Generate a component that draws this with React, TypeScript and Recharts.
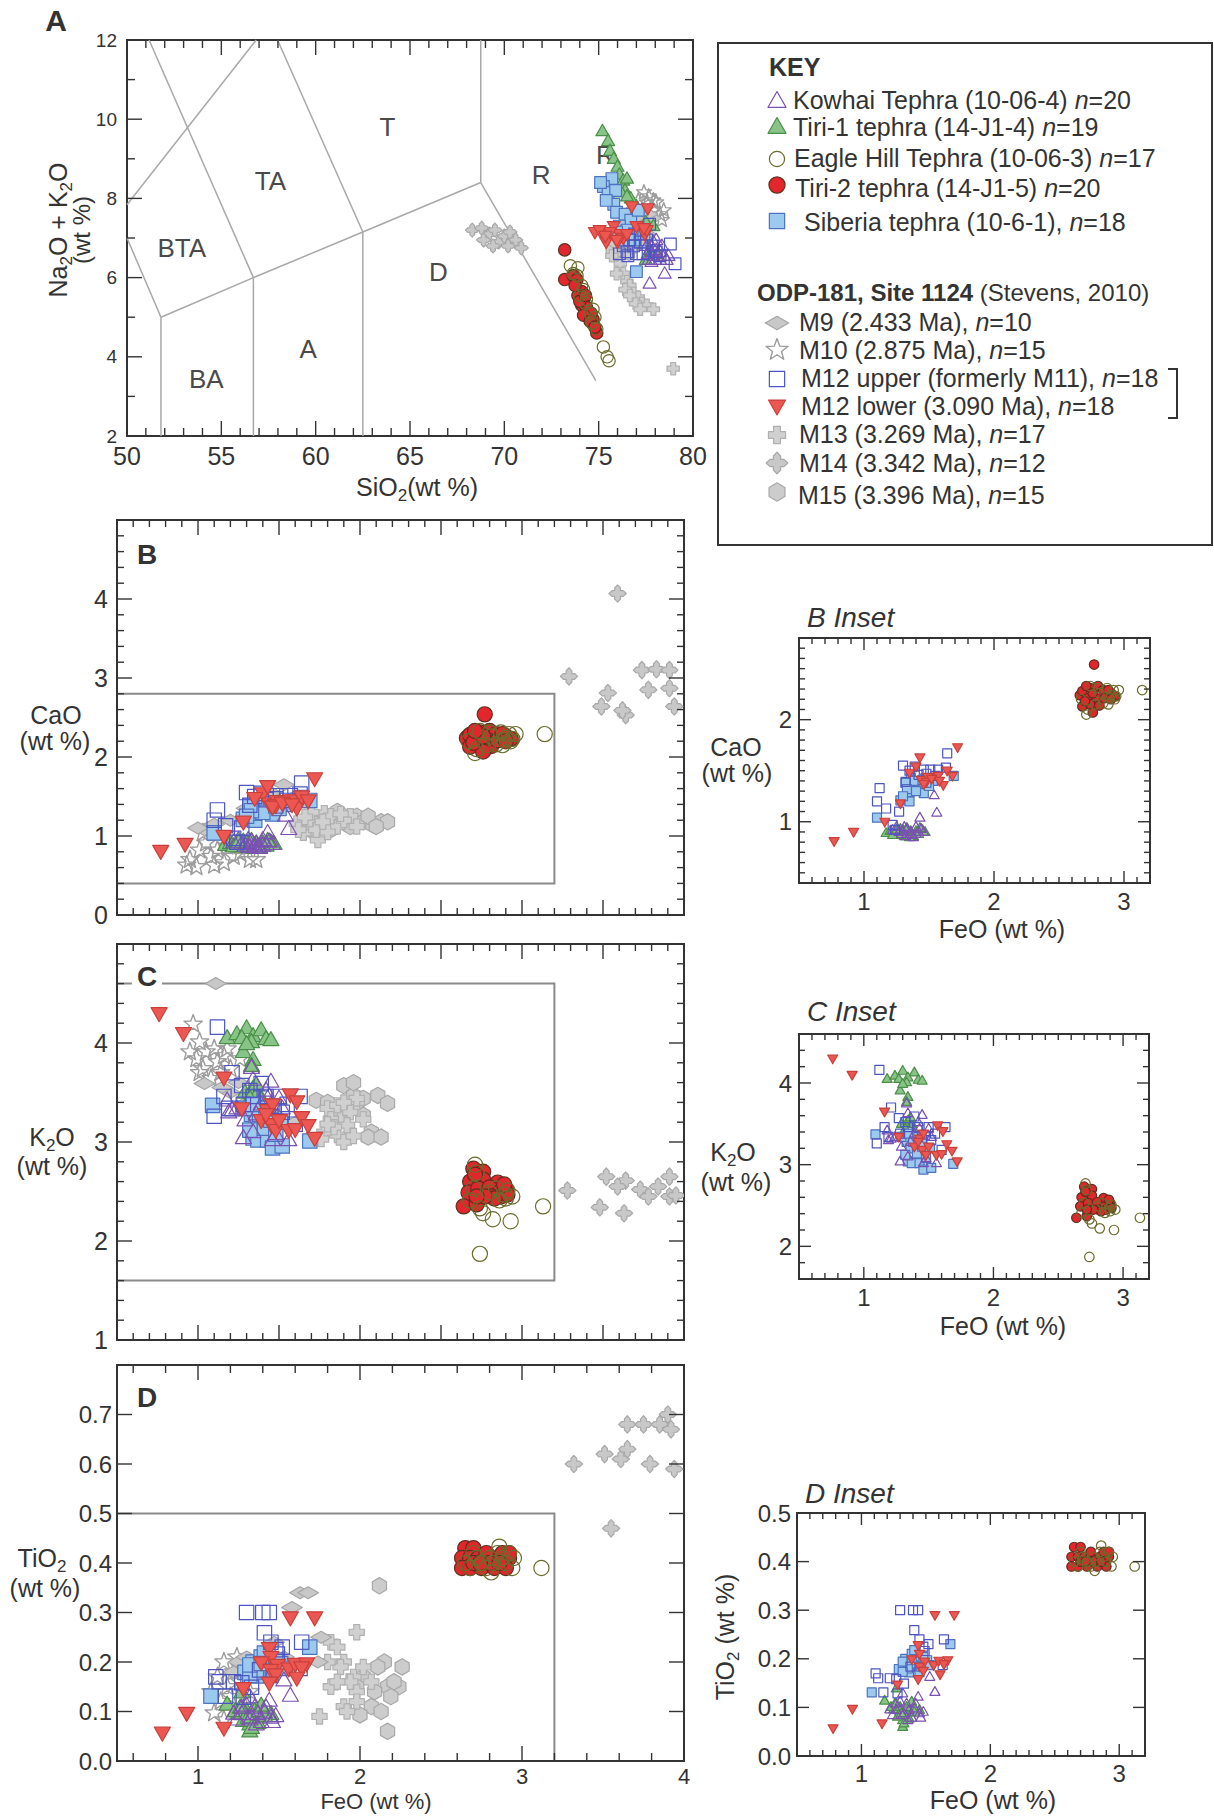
import React from 'react';
import { ScatterChart, Scatter, XAxis, YAxis, ReferenceArea, ReferenceLine } from 'recharts';

type P = [number, number];

const FONT = '"Liberation Sans", Arial, Helvetica, sans-serif';
const INK = '#333';

// ---------- A: Na2O + K2O vs SiO2 ----------
const kowhaiTAS: P[] = [[78.5, 6.1], [77.7, 5.85], [77.9, 6.55], [78.25, 6.45], [78.45, 6.55], [78.05, 6.7], [77.8, 6.8], [77.6, 6.6], [78.15, 6.55], [78.0, 6.45], [78.6, 6.45], [78.25, 6.65], [77.9, 6.9], [77.55, 6.8], [77.8, 6.4], [78.35, 6.8], [78.05, 6.95], [77.65, 6.45], [78.7, 6.55], [77.8, 6.65]];
const tiri1TAS: P[] = [[75.2, 9.7], [75.5, 9.45], [75.6, 9.2], [75.8, 9.0], [76.0, 8.8], [76.1, 8.6], [76.3, 8.45], [76.5, 8.5], [76.4, 8.2], [76.2, 8.15], [76.7, 8.0], [77.0, 7.8], [77.5, 7.4], [77.9, 7.3], [77.7, 6.7], [78.1, 6.6], [77.8, 6.55], [77.5, 6.45], [76.5, 8.05]];
const eagleTAS: P[] = [[73.5, 6.3], [73.9, 6.25], [73.85, 6.05], [74.2, 5.7], [74.3, 5.35], [74.7, 5.2], [74.8, 5.0], [74.65, 4.85], [75.25, 4.25], [75.45, 4.0], [75.55, 3.9], [74.35, 5.45], [74.0, 5.55], [74.55, 5.1], [74.9, 4.7], [74.1, 5.8], [73.65, 6.1]];
const tiri2TAS: P[] = [[73.2, 6.7], [73.2, 5.95], [73.65, 6.05], [74.1, 5.65], [74.2, 5.45], [74.1, 5.3], [74.3, 5.1], [74.45, 5.0], [74.7, 4.95], [74.9, 4.6], [73.9, 5.55], [74.35, 5.25], [74.6, 5.1], [73.85, 5.95], [74.2, 5.05], [74.0, 5.4], [74.55, 4.9], [74.3, 5.55], [73.75, 5.8], [74.8, 4.75]];
const siberiaTAS: P[] = [[75.7, 8.5], [75.25, 8.3], [75.5, 8.15], [75.9, 8.2], [75.8, 7.85], [75.95, 7.65], [76.4, 7.6], [76.7, 7.45], [77.1, 7.7], [75.4, 7.95], [76.1, 7.3], [76.5, 7.2], [76.9, 6.95], [77.0, 6.15], [76.3, 6.95], [75.95, 7.15], [77.4, 7.1], [75.1, 8.4]];
const m9TAS: P[] = [[76.9, 7.2], [77.3, 7.4], [77.6, 7.1], [76.6, 7.0], [77.9, 7.5], [77.2, 6.9], [76.4, 7.3], [77.7, 7.6], [77.0, 7.5], [76.2, 7.1]];
const m10TAS: P[] = [[77.4, 8.15], [77.9, 7.7], [78.25, 7.6], [77.55, 7.9], [77.1, 7.95], [78.05, 7.9], [77.7, 7.55], [78.35, 7.45], [77.3, 7.7], [76.85, 7.7], [77.9, 7.95], [78.45, 7.7], [77.45, 7.45], [77.0, 7.55], [77.65, 8.05]];
const m12uTAS: P[] = [[78.8, 6.85], [79.05, 6.35], [76.1, 6.6], [76.5, 6.65], [76.85, 6.8], [77.2, 6.9], [77.55, 6.95], [77.9, 6.8], [76.65, 6.95], [77.0, 6.6], [76.3, 6.8], [77.35, 6.6], [78.25, 6.55], [77.7, 7.35], [76.9, 7.1], [76.55, 6.55], [78.05, 6.65], [77.2, 7.1]];
const m12lTAS: P[] = [[76.75, 7.8], [77.6, 7.75], [74.8, 7.15], [75.15, 7.15], [75.4, 6.9], [75.8, 7.3], [76.1, 7.1], [75.6, 7.15], [76.3, 7.0], [76.0, 6.9], [77.45, 7.1], [77.55, 7.2], [75.05, 7.2], [76.5, 7.1], [77.0, 7.3], [77.4, 7.25], [75.35, 7.05], [75.95, 6.95]];
const m13TAS: P[] = [[75.95, 6.6], [76.15, 6.35], [76.3, 6.1], [76.5, 5.9], [76.65, 5.8], [76.85, 5.6], [77.1, 5.5], [77.3, 5.35], [77.55, 5.3], [77.9, 5.2], [76.95, 5.35], [76.4, 5.7], [75.7, 6.55], [77.2, 5.2], [75.95, 6.1], [76.65, 5.55], [78.95, 3.7]];
const m14TAS: P[] = [[68.3, 7.2], [68.8, 7.25], [69.2, 7.1], [69.5, 7.2], [69.7, 6.9], [70.0, 7.05], [70.3, 7.15], [70.6, 6.95], [70.9, 6.75], [69.4, 6.8], [70.2, 6.8], [68.9, 6.95]];
const m15TAS: P[] = [[75.8, 6.8], [76.1, 6.9], [76.4, 6.7], [76.0, 6.6], [76.7, 6.9], [75.9, 7.0], [76.3, 6.85], [76.6, 6.6], [76.2, 6.75], [75.7, 6.7], [76.5, 7.0], [76.8, 6.75], [76.05, 6.75], [76.35, 6.95], [75.85, 6.9]];

// TAS field boundaries and field names
const tasLines: P[][] = [
  [[50, 7.84], [56.85, 12]],
  [[51.17, 12], [56.7, 6.0]],
  [[50, 7.0], [51.8, 5.0]],
  [[51.8, 5.0], [56.7, 6.0], [62.5, 7.15], [68.75, 8.4]],
  [[57.98, 12], [62.5, 7.15]],
  [[51.8, 5.0], [51.8, 2]],
  [[56.7, 6.0], [56.7, 2]],
  [[62.5, 7.15], [62.5, 2]],
  [[68.75, 8.4], [68.75, 12]],
  [[68.75, 8.4], [74.85, 3.4]],
];
const tasFieldNames = ['BTA', 'TA', 'T', 'R', 'R', 'D', 'A', 'BA'];
const tasFieldPos: P[] = [[52.9, 6.75], [57.6, 8.45], [63.8, 9.8], [71.95, 8.6], [75.35, 9.1], [66.5, 6.15], [59.6, 4.2], [54.2, 3.45]];

// ---------- B: CaO vs FeO ----------
const kowhaiCaO: P[] = [[1.22, 0.92], [1.30, 0.91], [1.35, 0.88], [1.40, 0.88], [1.44, 0.93], [1.43, 1.04], [1.54, 1.26], [1.56, 1.09], [1.32, 0.86], [1.38, 0.85], [1.27, 0.90], [1.33, 0.93], [1.36, 0.90], [1.42, 0.90], [1.29, 0.88], [1.25, 0.95], [1.40, 0.95], [1.31, 0.95], [1.37, 0.87], [1.46, 0.90]];
const tiri1CaO: P[] = [[1.17, 0.89], [1.24, 0.90], [1.30, 0.92], [1.34, 0.88], [1.40, 0.91], [1.45, 0.92], [1.31, 0.86], [1.20, 0.91], [1.27, 0.87], [1.36, 0.91], [1.42, 0.88], [1.33, 0.94], [1.28, 0.93], [1.38, 0.86], [1.22, 0.87], [1.47, 0.90], [1.35, 0.85], [1.25, 0.92], [1.43, 0.94]];
const eagleCaO: P[] = [[3.14, 2.29], [2.71, 2.05], [2.92, 2.29], [2.94, 2.23], [2.96, 2.29], [2.89, 2.21], [2.74, 2.33], [2.81, 2.26], [2.87, 2.31], [2.67, 2.20], [2.78, 2.15], [2.84, 2.16], [2.90, 2.24], [2.72, 2.10], [2.80, 2.31], [2.93, 2.20], [2.88, 2.15]];
const tiri2CaO: P[] = [[2.77, 2.54], [2.66, 2.24], [2.68, 2.28], [2.74, 2.31], [2.80, 2.33], [2.84, 2.29], [2.90, 2.26], [2.93, 2.23], [2.72, 2.21], [2.79, 2.21], [2.68, 2.13], [2.74, 2.15], [2.81, 2.14], [2.76, 2.07], [2.85, 2.21], [2.70, 2.18], [2.88, 2.29], [2.76, 2.26], [2.90, 2.20], [2.71, 2.33]];
const siberiaCaO: P[] = [[1.10, 1.04], [1.28, 1.21], [1.35, 1.20], [1.35, 1.29], [1.39, 1.35], [1.42, 1.32], [1.46, 1.28], [1.36, 1.43], [1.39, 1.40], [1.53, 1.40], [1.69, 1.45], [1.32, 1.38], [1.45, 1.41], [1.50, 1.35], [1.40, 1.30], [1.33, 1.32], [1.48, 1.38], [1.30, 1.25]];
const m9CaO: P[] = [[1.04, 1.08], [1.53, 1.65], [1.00, 1.10], [1.10, 1.15], [1.20, 1.20], [1.35, 1.30], [1.45, 1.55], [1.50, 1.45], [1.60, 1.50], [1.30, 1.35]];
const m10CaO: P[] = [[0.95, 0.70], [1.01, 0.82], [1.08, 0.74], [1.16, 0.66], [1.22, 0.74], [1.32, 0.70], [1.05, 0.91], [0.99, 0.61], [1.12, 0.82], [1.26, 0.78], [1.36, 0.70], [1.03, 1.04], [1.18, 0.87], [1.10, 0.63], [0.93, 0.63]];
const m12uCaO: P[] = [[1.12, 1.33], [1.10, 1.20], [1.17, 1.13], [1.27, 1.10], [1.30, 1.55], [1.32, 1.39], [1.39, 1.54], [1.46, 1.51], [1.51, 1.51], [1.57, 1.51], [1.63, 1.53], [1.64, 1.67], [1.22, 0.97], [1.24, 0.92], [1.42, 1.46], [1.55, 1.45], [1.35, 1.50], [1.48, 1.47]];
const m12lCaO: P[] = [[0.77, 0.81], [0.92, 0.90], [1.16, 1.00], [1.28, 1.18], [1.40, 1.54], [1.43, 1.63], [1.44, 1.41], [1.49, 1.44], [1.48, 1.39], [1.57, 1.45], [1.61, 1.36], [1.64, 1.50], [1.68, 1.45], [1.72, 1.73], [1.46, 1.37], [1.52, 1.42], [1.35, 1.48], [1.58, 1.40]];
const m13CaO: P[] = [[1.61, 1.16], [1.74, 0.95], [1.69, 1.21], [1.78, 1.29], [1.86, 1.12], [1.65, 1.04], [1.82, 1.25], [1.94, 1.25], [1.98, 1.12], [1.73, 1.08], [1.70, 1.30], [1.90, 1.20], [1.80, 1.05], [1.62, 1.08], [1.77, 1.18], [1.88, 1.28], [1.66, 1.24]];
const m14CaO: P[] = [[3.29, 3.02], [3.59, 4.07], [3.53, 2.81], [3.49, 2.64], [3.64, 2.53], [3.74, 3.10], [3.83, 3.11], [3.91, 3.10], [3.78, 2.85], [3.91, 2.87], [3.94, 2.64], [3.62, 2.59]];
const m15CaO: P[] = [[1.74, 1.10], [1.82, 1.08], [1.91, 1.16], [1.98, 1.25], [2.02, 1.18], [2.08, 1.14], [2.13, 1.18], [2.17, 1.18], [1.78, 1.18], [1.86, 1.31], [1.94, 1.12], [1.69, 1.08], [1.90, 1.25], [2.05, 1.25], [2.10, 1.12]];

// ---------- C: K2O vs FeO ----------
const kowhaiK2O: P[] = [[1.21, 3.32], [1.18, 3.42], [1.33, 3.75], [1.34, 3.63], [1.45, 3.61], [1.43, 3.44], [1.28, 3.04], [1.34, 3.10], [1.46, 3.02], [1.56, 3.02], [1.52, 3.34], [1.24, 3.34], [1.39, 3.38], [1.29, 3.22], [1.42, 3.52], [1.48, 3.08], [1.19, 3.30], [1.36, 3.28], [1.45, 3.38], [1.50, 3.44]];
const tiri1K2O: P[] = [[1.18, 4.05], [1.24, 4.09], [1.30, 4.15], [1.34, 4.07], [1.39, 4.13], [1.42, 4.04], [1.28, 3.91], [1.33, 4.01], [1.34, 3.83], [1.33, 3.77], [1.29, 3.50], [1.34, 3.54], [1.37, 3.50], [1.27, 4.05], [1.45, 4.03], [1.30, 3.99], [1.36, 3.58], [1.39, 3.42], [1.32, 3.44]];
const eagleK2O: P[] = [[2.71, 2.77], [2.76, 2.28], [2.82, 2.22], [2.93, 2.20], [2.74, 1.87], [3.13, 2.35], [2.89, 2.47], [2.94, 2.45], [2.91, 2.51], [2.70, 2.53], [2.84, 2.53], [2.72, 2.69], [2.86, 2.41], [2.80, 2.49], [2.68, 2.41], [2.74, 2.33], [2.90, 2.43]];
const tiri2K2O: P[] = [[2.70, 2.73], [2.76, 2.70], [2.68, 2.60], [2.76, 2.62], [2.85, 2.59], [2.67, 2.49], [2.73, 2.53], [2.80, 2.54], [2.86, 2.49], [2.90, 2.53], [2.64, 2.35], [2.72, 2.37], [2.81, 2.45], [2.87, 2.45], [2.91, 2.47], [2.71, 2.67], [2.83, 2.43], [2.77, 2.45], [2.72, 2.45], [2.89, 2.57]];
const siberiaK2O: P[] = [[1.09, 3.37], [1.33, 3.28], [1.36, 3.20], [1.34, 3.04], [1.37, 3.02], [1.43, 3.02], [1.46, 2.94], [1.52, 2.96], [1.69, 3.01], [1.29, 3.34], [1.41, 3.14], [1.48, 3.08], [1.45, 3.22], [1.32, 3.12], [1.38, 3.28], [1.51, 3.20], [1.42, 3.34], [1.34, 3.38]];
const m9K2O: P[] = [[1.11, 4.60], [1.04, 3.59], [1.20, 3.50], [1.30, 3.40], [1.45, 3.30], [1.50, 3.25], [1.15, 3.55], [1.35, 3.35], [1.25, 3.60], [1.60, 3.20]];
const m10K2O: P[] = [[0.97, 4.19], [1.01, 4.01], [1.05, 3.91], [0.99, 3.84], [1.10, 3.94], [1.16, 3.87], [1.20, 3.74], [1.03, 3.74], [1.12, 3.81], [1.08, 3.64], [1.18, 3.94], [1.26, 3.84], [1.01, 3.70], [1.14, 3.70], [0.95, 3.91]];
const m12uK2O: P[] = [[1.12, 4.16], [1.21, 3.70], [1.27, 3.57], [1.16, 3.46], [1.10, 3.26], [1.32, 3.52], [1.42, 3.46], [1.52, 3.30], [1.63, 3.46], [1.55, 3.38], [1.50, 3.46], [1.19, 3.34], [1.34, 3.46], [1.60, 3.18], [1.45, 3.26], [1.39, 3.59], [1.28, 3.38], [1.47, 3.36]];
const m12lK2O: P[] = [[0.76, 4.30], [0.91, 4.10], [1.16, 3.65], [1.27, 3.34], [1.39, 3.22], [1.43, 3.32], [1.46, 3.38], [1.45, 3.18], [1.48, 3.12], [1.56, 3.12], [1.57, 3.48], [1.61, 3.41], [1.60, 3.13], [1.64, 3.25], [1.68, 3.17], [1.72, 3.04], [1.42, 3.28], [1.50, 3.22]];
const m13K2O: P[] = [[1.80, 3.34], [1.88, 3.23], [1.98, 3.40], [1.86, 3.07], [1.90, 3.00], [1.94, 3.30], [1.78, 3.10], [1.82, 3.23], [2.02, 3.23], [1.98, 3.44], [1.86, 3.37], [1.76, 3.03], [1.92, 3.17], [1.84, 3.15], [1.96, 3.06], [1.80, 3.18], [1.90, 3.40]];
const m14K2O: P[] = [[3.28, 2.51], [3.48, 2.34], [3.52, 2.65], [3.64, 2.61], [3.59, 2.55], [3.63, 2.28], [3.73, 2.52], [3.84, 2.55], [3.91, 2.65], [3.78, 2.45], [3.91, 2.45], [3.95, 2.46]];
const m15K2O: P[] = [[1.73, 3.42], [1.90, 3.57], [1.96, 3.47], [1.88, 3.34], [1.98, 3.34], [2.02, 3.27], [2.11, 3.47], [2.17, 3.39], [2.07, 3.10], [2.05, 3.05], [2.13, 3.05], [1.96, 3.60], [2.02, 3.44], [1.86, 3.27], [1.80, 3.40]];

// ---------- D: TiO2 vs FeO ----------
const kowhaiTiO2: P[] = [[1.53, 0.163], [1.57, 0.132], [1.44, 0.122], [1.22, 0.096], [1.27, 0.095], [1.33, 0.088], [1.39, 0.079], [1.45, 0.088], [1.46, 0.079], [1.35, 0.108], [1.32, 0.129], [1.30, 0.112], [1.37, 0.095], [1.24, 0.084], [1.41, 0.098], [1.48, 0.091], [1.36, 0.074], [1.27, 0.108], [1.42, 0.108], [1.32, 0.084]];
const tiri1TiO2: P[] = [[1.18, 0.114], [1.27, 0.139], [1.25, 0.096], [1.30, 0.101], [1.32, 0.074], [1.32, 0.060], [1.36, 0.089], [1.39, 0.098], [1.45, 0.095], [1.23, 0.101], [1.33, 0.088], [1.28, 0.081], [1.37, 0.077], [1.41, 0.091], [1.35, 0.101], [1.31, 0.088], [1.26, 0.108], [1.39, 0.112], [1.33, 0.067]];
const eagleTiO2: P[] = [[2.86, 0.433], [2.81, 0.381], [2.94, 0.390], [3.12, 0.390], [2.70, 0.420], [2.75, 0.400], [2.90, 0.400], [2.80, 0.410], [2.65, 0.400], [2.85, 0.420], [2.78, 0.390], [2.72, 0.410], [2.88, 0.410], [2.92, 0.420], [2.82, 0.400], [2.68, 0.390], [2.95, 0.410]];
const tiri2TiO2: P[] = [[2.65, 0.430], [2.70, 0.430], [2.63, 0.410], [2.68, 0.410], [2.73, 0.410], [2.78, 0.410], [2.85, 0.410], [2.92, 0.410], [2.88, 0.420], [2.92, 0.420], [2.78, 0.420], [2.63, 0.390], [2.68, 0.390], [2.75, 0.390], [2.83, 0.390], [2.90, 0.390], [2.70, 0.400], [2.80, 0.400], [2.86, 0.400], [2.74, 0.400]];
const siberiaTiO2: P[] = [[1.08, 0.131], [1.29, 0.179], [1.34, 0.200], [1.39, 0.210], [1.42, 0.194], [1.40, 0.187], [1.37, 0.172], [1.45, 0.173], [1.51, 0.197], [1.69, 0.230], [1.36, 0.180], [1.32, 0.173], [1.48, 0.204], [1.41, 0.218], [1.53, 0.187], [1.46, 0.184], [1.32, 0.194], [1.39, 0.197]];
const m9TiO2: P[] = [[1.63, 0.34], [1.68, 0.34], [1.58, 0.31], [1.76, 0.25], [1.74, 0.20], [1.25, 0.20], [1.30, 0.21], [1.22, 0.18], [1.47, 0.24], [1.53, 0.21]];
const m10TiO2: P[] = [[1.16, 0.20], [1.22, 0.18], [1.12, 0.17], [1.10, 0.097], [1.16, 0.083], [1.26, 0.16], [1.20, 0.13], [1.32, 0.19], [1.14, 0.12], [1.29, 0.11], [1.18, 0.15], [1.24, 0.21], [1.08, 0.14], [1.32, 0.14], [1.36, 0.20]];
const m12uTiO2: P[] = [[1.30, 0.30], [1.40, 0.30], [1.44, 0.30], [1.41, 0.259], [1.45, 0.24], [1.52, 0.23], [1.64, 0.24], [1.11, 0.17], [1.13, 0.16], [1.22, 0.16], [1.17, 0.131], [1.28, 0.129], [1.33, 0.149], [1.38, 0.184], [1.49, 0.216], [1.63, 0.187], [1.48, 0.225], [1.27, 0.158]];
const m12lTiO2: P[] = [[0.78, 0.057], [0.93, 0.097], [1.16, 0.067], [1.28, 0.147], [1.44, 0.228], [1.45, 0.21], [1.39, 0.199], [1.49, 0.194], [1.45, 0.184], [1.48, 0.175], [1.44, 0.158], [1.57, 0.29], [1.72, 0.29], [1.56, 0.187], [1.60, 0.196], [1.67, 0.197], [1.64, 0.189], [1.61, 0.168]];
const m13TiO2: P[] = [[1.98, 0.26], [1.82, 0.24], [1.86, 0.23], [1.90, 0.20], [1.88, 0.19], [1.96, 0.17], [1.82, 0.15], [1.98, 0.14], [1.90, 0.11], [1.75, 0.09], [2.02, 0.19], [1.80, 0.20], [1.94, 0.16], [1.86, 0.16], [1.98, 0.12], [2.07, 0.16], [1.92, 0.10]];
const m14TiO2: P[] = [[3.32, 0.60], [3.51, 0.62], [3.55, 0.47], [3.61, 0.61], [3.65, 0.63], [3.65, 0.68], [3.75, 0.68], [3.79, 0.60], [3.85, 0.68], [3.90, 0.70], [3.92, 0.67], [3.94, 0.59]];
const m15TiO2: P[] = [[2.12, 0.354], [2.15, 0.20], [2.26, 0.19], [2.11, 0.19], [2.02, 0.17], [2.17, 0.15], [2.24, 0.15], [2.19, 0.13], [2.07, 0.11], [2.13, 0.10], [2.00, 0.093], [2.17, 0.06], [1.98, 0.15], [2.21, 0.16], [2.09, 0.14]];

// ---------- axes ----------
function steps(a: number, b: number, d: number) {
  const n = Math.round((b - a) / d);
  const out: number[] = [];
  for (let i = 0; i <= n; i++) out.push(Math.round((a + i * d) * 1000) / 1000);
  return out;
}
const sio2Ticks = steps(50, 80, 1);
const sio2Labels = [50, 55, 60, 65, 70, 75, 80];
const alkTicks = steps(2, 12, 1);
const alkLabels = [2, 4, 6, 8, 10, 12];
const feoTicks = steps(0.5, 4.0, 0.1);
const feoHalves = [1, 1.5, 2, 2.5, 3, 3.5];
const feoTicksD = steps(0.6, 4.0, 0.2);
const feoLabels = [1, 2, 3, 4];
const caoTicks = steps(0, 5, 0.2);
const caoLabels = [0, 1, 2, 3, 4];
const k2oTicks = steps(1, 5, 0.2);
const k2oLabels = [1, 2, 3, 4];
const tio2Ticks = steps(0, 0.8, 0.1);
const tio2Labels = [0, 0.1, 0.2, 0.3, 0.4, 0.5, 0.6, 0.7];
const feoInsetTicks = steps(0.5, 3.2, 0.1);
const feoInsetLabels = [1, 2, 3];
const caoInsetTicks = steps(0.4, 2.8, 0.1);
const caoInsetLabels = [1, 2];
const k2oInsetTicks = steps(1.6, 4.6, 0.2);
const k2oInsetLabels = [2, 3, 4];
const tio2InsetTicks = steps(0, 0.5, 0.1);
const tio2InsetLabels = [0, 0.1, 0.2, 0.3, 0.4, 0.5];

// ---------- series styles ----------
type Kind = 'triUp' | 'triDown' | 'circle' | 'square' | 'diamond' | 'star' | 'plus' | 'quat' | 'hex';
interface Sty { kind: Kind; fill: string; stroke: string }
const STY: Record<string, Sty> = {
  kowhai: { kind: 'triUp', fill: 'none', stroke: '#7b50b2' },
  tiri1: { kind: 'triUp', fill: '#88c487', stroke: '#4a8f48' },
  eagle: { kind: 'circle', fill: 'none', stroke: '#6b6b2b' },
  tiri2: { kind: 'circle', fill: '#e3262b', stroke: '#5a3020' },
  siberia: { kind: 'square', fill: '#9ccaee', stroke: '#4d72c0' },
  m9: { kind: 'diamond', fill: '#c8c8c8', stroke: '#a5a5a5' },
  m10: { kind: 'star', fill: 'none', stroke: '#9c9c9c' },
  m12u: { kind: 'square', fill: 'none', stroke: '#4c55c2' },
  m12l: { kind: 'triDown', fill: '#ec5752', stroke: '#c8403c' },
  m13: { kind: 'plus', fill: '#d0d0d0', stroke: '#b0b0b0' },
  m14: { kind: 'quat', fill: '#c8c8c8', stroke: '#a8a8a8' },
  m15: { kind: 'hex', fill: '#cccccc', stroke: '#a8a8a8' },
};
const ORDER = ['m15', 'm14', 'm13', 'm10', 'm9', 'tiri1', 'siberia', 'kowhai', 'm12u', 'm12l', 'tiri2', 'eagle'];
const INSET_ORDER = ['tiri1', 'siberia', 'kowhai', 'm12u', 'm12l', 'tiri2', 'eagle'];

const TAS: Record<string, P[]> = { kowhai: kowhaiTAS, tiri1: tiri1TAS, eagle: eagleTAS, tiri2: tiri2TAS, siberia: siberiaTAS, m9: m9TAS, m10: m10TAS, m12u: m12uTAS, m12l: m12lTAS, m13: m13TAS, m14: m14TAS, m15: m15TAS };
const CAO: Record<string, P[]> = { kowhai: kowhaiCaO, tiri1: tiri1CaO, eagle: eagleCaO, tiri2: tiri2CaO, siberia: siberiaCaO, m9: m9CaO, m10: m10CaO, m12u: m12uCaO, m12l: m12lCaO, m13: m13CaO, m14: m14CaO, m15: m15CaO };
const K2O: Record<string, P[]> = { kowhai: kowhaiK2O, tiri1: tiri1K2O, eagle: eagleK2O, tiri2: tiri2K2O, siberia: siberiaK2O, m9: m9K2O, m10: m10K2O, m12u: m12uK2O, m12l: m12lK2O, m13: m13K2O, m14: m14K2O, m15: m15K2O };
const TIO2: Record<string, P[]> = { kowhai: kowhaiTiO2, tiri1: tiri1TiO2, eagle: eagleTiO2, tiri2: tiri2TiO2, siberia: siberiaTiO2, m9: m9TiO2, m10: m10TiO2, m12u: m12uTiO2, m12l: m12lTiO2, m13: m13TiO2, m14: m14TiO2, m15: m15TiO2 };

function Marker({ k, cx, cy, s, fill, stroke }: { k: Kind; cx: number; cy: number; s: number; fill: string; stroke: string }) {
  const r = s / 2;
  const common = { fill, stroke, strokeWidth: k === 'star' ? 1.4 : 1.2, strokeLinejoin: 'round' as const };
  const poly = (pts: P[]) => <polygon points={pts.map(([a, b]) => `${cx + a},${cy + b}`).join(' ')} {...common} />;
  switch (k) {
    case 'circle':
      return <circle cx={cx} cy={cy} r={r * 0.95} {...common} />;
    case 'square':
      return <rect x={cx - r * 0.9} y={cy - r * 0.9} width={s * 0.9} height={s * 0.9} {...common} />;
    case 'triUp':
      return poly([[0, -r * 1.05], [r, r * 0.7], [-r, r * 0.7]]);
    case 'triDown':
      return poly([[0, r * 1.05], [r, -r * 0.7], [-r, -r * 0.7]]);
    case 'diamond':
      return poly([[-r * 1.3, 0], [0, -r * 0.75], [r * 1.3, 0], [0, r * 0.75]]);
    case 'star': {
      const pts: P[] = [];
      for (let i = 0; i < 10; i++) {
        const a = (-90 + i * 36) * Math.PI / 180;
        const rr = i % 2 ? r * 0.5 : r * 1.2;
        pts.push([rr * Math.cos(a), rr * Math.sin(a)]);
      }
      return poly(pts);
    }
    case 'plus': {
      const a = r * 0.38, b = r * 0.95;
      return poly([[-a, -b], [a, -b], [a, -a], [b, -a], [b, a], [a, a], [a, b], [-a, b], [-a, a], [-b, a], [-b, -a], [-a, -a]]);
    }
    case 'quat': {
      const a = r * 0.36, b = r * 0.7, t = r * 1.08;
      return poly([[0, -t], [a, -b], [a, -a], [b, -a], [t, 0], [b, a], [a, a], [a, b], [0, t], [-a, b], [-a, a], [-b, a], [-t, 0], [-b, -a], [-a, -a], [-a, -b]]);
    }
    case 'hex':
    default: {
      const pts: P[] = [];
      for (let i = 0; i < 6; i++) {
        const a = (-90 + i * 60) * Math.PI / 180;
        pts.push([r * 1.02 * Math.cos(a), r * 1.02 * Math.sin(a)]);
      }
      return poly(pts);
    }
  }
}

const PL = 80, PT = 24, PR = 24, PB = 44;

interface PlotProps {
  left: number; top: number; w: number; h: number;
  xDom: [number, number]; yDom: [number, number];
  xTicks: number[]; xMajor: number[]; xLabels: number[]; xFmt?: (v: number) => string;
  yTicks: number[]; yMajor: number[]; yLabels: number[]; yFmt?: (v: number) => string;
  data: Record<string, P[]>; order: string[]; size: number;
  xFont: number; yFont: number; xLabelDy: number; yLabelDx: number;
  majLen: number; minLen: number;
  box?: [number, number, number, number];
  tas?: boolean;
}

const has = (arr: number[], v: number) => arr.some((a) => Math.abs(a - v) < 1e-6);
const toXY = (pts: P[]) => pts.map(([x, y]) => ({ x, y }));

function Plot(p: PlotProps) {
  const g = { top: PT, bottom: PT + p.h, left: PL, right: PL + p.w };
  const xFmt = p.xFmt ?? ((v: number) => String(v));
  const yFmt = p.yFmt ?? ((v: number) => String(v));
  const xTick = (t: any) => {
    const v = t.payload.value;
    const x = t.x;
    const len = has(p.xMajor, v) ? p.majLen : p.minLen;
    return (
      <g>
        <line x1={x} x2={x} y1={g.bottom} y2={g.bottom - len} stroke={INK} strokeWidth={1.4} />
        <line x1={x} x2={x} y1={g.top} y2={g.top + len} stroke={INK} strokeWidth={1.4} />
        {has(p.xLabels, v) && (
          <text x={x} y={g.bottom + p.xLabelDy} textAnchor="middle" dominantBaseline="central" fontSize={p.xFont} fontFamily={FONT} fill={INK}>{xFmt(v)}</text>
        )}
      </g>
    );
  };
  const yTick = (t: any) => {
    const v = t.payload.value;
    const y = t.y;
    const len = has(p.yMajor, v) ? p.majLen : p.minLen;
    return (
      <g>
        <line x1={g.left} x2={g.left + len} y1={y} y2={y} stroke={INK} strokeWidth={1.4} />
        <line x1={g.right} x2={g.right - len} y1={y} y2={y} stroke={INK} strokeWidth={1.4} />
        {has(p.yLabels, v) && (
          <text x={g.left - p.yLabelDx} y={y} textAnchor="end" dominantBaseline="central" fontSize={p.yFont} fontFamily={FONT} fill={INK}>{yFmt(v)}</text>
        )}
      </g>
    );
  };
  return (
    <div style={{ position: 'absolute', left: p.left - PL, top: p.top - PT }}>
      <ScatterChart width={p.w + PL + PR} height={p.h + PT + PB} margin={{ top: PT, right: PR, bottom: 0, left: 0 }}>
        <XAxis type="number" dataKey="x" domain={p.xDom} ticks={p.xTicks} interval={0} allowDataOverflow tickSize={0} tickLine={false} axisLine={false} height={PB} tick={xTick} />
        <YAxis type="number" dataKey="y" domain={p.yDom} ticks={p.yTicks} interval={0} allowDataOverflow tickSize={0} tickLine={false} axisLine={false} width={PL} tick={yTick} />
        {p.tas && tasLines.flatMap((line, i) =>
          line.slice(1).map((pt, j) => (
            <ReferenceLine key={`tl${i}-${j}`} segment={[{ x: line[j][0], y: line[j][1] }, { x: pt[0], y: pt[1] }]} stroke="#a8a8a8" strokeWidth={1.5} ifOverflow="visible" />
          ))
        )}
        {p.tas && (
          <Scatter
            data={tasFieldPos.map(([x, y], i) => ({ x, y, name: tasFieldNames[i] }))}
            isAnimationActive={false}
            shape={(s: any) => (
              <text x={s.cx} y={s.cy} textAnchor="middle" dominantBaseline="central" fontSize={26} fontFamily={FONT} fill="#4a4a4a">{s.payload.name}</text>
            )}
          />
        )}
        {p.box && (
          <ReferenceArea x1={p.box[0]} x2={p.box[1]} y1={p.box[2]} y2={p.box[3]} fill="none" stroke="#8a8a8a" strokeWidth={2} ifOverflow="visible" />
        )}
        {p.order.map((k) => {
          const st = STY[k];
          return (
            <Scatter
              key={k}
              data={toXY(p.data[k])}
              isAnimationActive={false}
              shape={(s: any) => <Marker k={st.kind} cx={s.cx} cy={s.cy} s={p.size} fill={st.fill} stroke={st.stroke} />}
            />
          );
        })}
        <ReferenceArea x1={p.xDom[0]} x2={p.xDom[1]} y1={p.yDom[0]} y2={p.yDom[1]} fill="none" stroke={INK} strokeWidth={2} ifOverflow="visible" />
      </ScatterChart>
    </div>
  );
}

const Sub = ({ children }: { children: React.ReactNode }) => (
  <span style={{ fontSize: '0.68em', position: 'relative', top: '0.3em' }}>{children}</span>
);

function Txt({ x, y, size = 25, anchor = 'middle', rotate, style, children }: any) {
  const tx = anchor === 'middle' ? '-50%' : '0';
  return (
    <div
      style={{
        position: 'absolute', left: x, top: y, fontSize: size, fontFamily: FONT, color: INK, whiteSpace: 'nowrap', lineHeight: 1,
        transform: `translate(${tx},-50%)${rotate ? ` rotate(${rotate}deg)` : ''}`, transformOrigin: anchor === 'middle' ? 'center' : 'left center', ...style,
      }}
    >
      {children}
    </div>
  );
}

const legendNew = [
  { k: 'kowhai', sy: 101, tx: 793, ty: 100, text: 'Kowhai Tephra (10-06-4) ', n: '=20', sz: 18 },
  { k: 'tiri1', sy: 127, tx: 793, ty: 127, text: 'Tiri-1 tephra (14-J1-4) ', n: '=19', sz: 18 },
  { k: 'eagle', sy: 159, tx: 794, ty: 158, text: 'Eagle Hill Tephra (10-06-3) ', n: '=17', sz: 16 },
  { k: 'tiri2', sy: 185, tx: 795, ty: 188, text: 'Tiri-2 tephra (14-J1-5) ', n: '=20', sz: 17 },
  { k: 'siberia', sy: 221, tx: 804, ty: 222, text: 'Siberia tephra (10-6-1), ', n: '=18', sz: 17 },
  { k: 'm9', sy: 323, tx: 799, ty: 322, text: 'M9 (2.433 Ma), ', n: '=10', sz: 18 },
  { k: 'm10', sy: 350, tx: 799, ty: 350, text: 'M10 (2.875 Ma), ', n: '=15', sz: 19 },
  { k: 'm12u', sy: 379, tx: 801, ty: 378, text: 'M12 upper (formerly M11), ', n: '=18', sz: 17 },
  { k: 'm12l', sy: 406, tx: 801, ty: 406, text: 'M12 lower (3.090 Ma), ', n: '=18', sz: 17 },
  { k: 'm13', sy: 435, tx: 799, ty: 434, text: 'M13 (3.269 Ma), ', n: '=17', sz: 18 },
  { k: 'm14', sy: 463, tx: 799, ty: 463, text: 'M14 (3.342 Ma), ', n: '=12', sz: 20 },
  { k: 'm15', sy: 492, tx: 798, ty: 495, text: 'M15 (3.396 Ma), ', n: '=15', sz: 18 },
];

export default function App() {
  const tick1 = (v: number) => v.toFixed(1);
  return (
    <div style={{ position: 'absolute', left: 0, top: 0, width: 1214, height: 1816, background: '#fff', overflow: 'hidden' }}>
      {/* A */}
      <Plot left={127} top={40} w={566} h={396} xDom={[50, 80]} yDom={[2, 12]}
        xTicks={sio2Ticks} xMajor={sio2Labels} xLabels={sio2Labels}
        yTicks={alkTicks} yMajor={alkLabels} yLabels={alkLabels}
        data={TAS} order={ORDER} size={13} xFont={25} yFont={19} xLabelDy={20} yLabelDx={10}
        majLen={15} minLen={8} tas />
      {/* B */}
      <Plot left={117} top={520} w={567} h={395} xDom={[0.5, 4.0]} yDom={[0, 5]}
        xTicks={feoTicks} xMajor={feoHalves} xLabels={[]}
        yTicks={caoTicks} yMajor={caoLabels} yLabels={caoLabels}
        data={CAO} order={ORDER} size={16} xFont={24} yFont={25} xLabelDy={15} yLabelDx={9}
        majLen={15} minLen={7} box={[0.5, 3.2, 0.4, 2.8]} />
      {/* C */}
      <Plot left={117} top={944} w={567} h={396} xDom={[0.5, 4.0]} yDom={[1, 5]}
        xTicks={feoTicks} xMajor={feoHalves} xLabels={[]}
        yTicks={k2oTicks} yMajor={k2oLabels} yLabels={k2oLabels}
        data={K2O} order={ORDER} size={16} xFont={24} yFont={25} xLabelDy={15} yLabelDx={9}
        majLen={15} minLen={7} box={[0.5, 3.2, 1.6, 4.6]} />
      {/* D */}
      <Plot left={117} top={1365} w={567} h={396} xDom={[0.5, 4.0]} yDom={[0, 0.8]}
        xTicks={feoTicksD} xMajor={feoLabels} xLabels={feoLabels}
        yTicks={tio2Ticks} yMajor={tio2Labels} yLabels={tio2Labels} yFmt={tick1}
        data={TIO2} order={ORDER} size={16} xFont={22} yFont={24} xLabelDy={15} yLabelDx={5}
        majLen={15} minLen={8} box={[0.5, 3.2, 0, 0.5]} />
      {/* insets */}
      <Plot left={799} top={638} w={351} h={245} xDom={[0.5, 3.2]} yDom={[0.4, 2.8]}
        xTicks={feoInsetTicks} xMajor={feoInsetLabels} xLabels={feoInsetLabels}
        yTicks={caoInsetTicks} yMajor={caoInsetLabels} yLabels={caoInsetLabels}
        data={CAO} order={INSET_ORDER} size={10} xFont={24} yFont={24} xLabelDy={18} yLabelDx={7}
        majLen={12} minLen={6} />
      <Plot left={799} top={1034} w={350} h={245} xDom={[0.5, 3.2]} yDom={[1.6, 4.6]}
        xTicks={feoInsetTicks} xMajor={feoInsetLabels} xLabels={feoInsetLabels}
        yTicks={k2oInsetTicks} yMajor={k2oInsetLabels} yLabels={k2oInsetLabels}
        data={K2O} order={INSET_ORDER} size={10} xFont={24} yFont={24} xLabelDy={18} yLabelDx={7}
        majLen={12} minLen={6} />
      <Plot left={797} top={1513} w={348} h={243} xDom={[0.5, 3.2]} yDom={[0, 0.5]}
        xTicks={feoInsetTicks} xMajor={feoInsetLabels} xLabels={feoInsetLabels}
        yTicks={tio2InsetTicks} yMajor={tio2InsetLabels} yLabels={tio2InsetLabels} yFmt={tick1}
        data={TIO2} order={INSET_ORDER} size={10} xFont={24} yFont={24} xLabelDy={17} yLabelDx={6}
        majLen={12} minLen={6} />

      {/* panel letters and axis titles */}
      <Txt x={56} y={21} size={30} style={{ fontWeight: 700 }}>A</Txt>
      <Txt x={58} y={230} size={25} rotate={-90}>Na<Sub>2</Sub>O + K<Sub>2</Sub>O</Txt>
      <Txt x={82} y={230} size={24} rotate={-90}>(wt %)</Txt>
      <Txt x={417} y={487} size={25}>SiO<Sub>2</Sub>(wt %)</Txt>

      <Txt x={147} y={555} size={28} style={{ fontWeight: 700 }}>B</Txt>
      <Txt x={56} y={715} size={25}>CaO</Txt>
      <Txt x={55} y={741} size={25}>(wt %)</Txt>

      <Txt x={147} y={977} size={28} style={{ fontWeight: 700, background: '#fff', padding: '2px 5px' }}>C</Txt>
      <Txt x={52} y={1137} size={25}>K<Sub>2</Sub>O</Txt>
      <Txt x={52} y={1166} size={25}>(wt %)</Txt>

      <Txt x={147} y={1398} size={28} style={{ fontWeight: 700 }}>D</Txt>
      <Txt x={42} y={1558} size={25}>TiO<Sub>2</Sub></Txt>
      <Txt x={45} y={1588} size={25}>(wt %)</Txt>
      <Txt x={376} y={1802} size={22}>FeO (wt %)</Txt>

      <Txt x={807} y={618} size={28} anchor="start" style={{ fontStyle: 'italic' }}>B Inset</Txt>
      <Txt x={736} y={747} size={25}>CaO</Txt>
      <Txt x={737} y={773} size={25}>(wt %)</Txt>
      <Txt x={1002} y={929} size={25}>FeO (wt %)</Txt>

      <Txt x={807} y={1012} size={28} anchor="start" style={{ fontStyle: 'italic' }}>C Inset</Txt>
      <Txt x={733} y={1152} size={25}>K<Sub>2</Sub>O</Txt>
      <Txt x={736} y={1182} size={25}>(wt %)</Txt>
      <Txt x={1003} y={1326} size={25}>FeO (wt %)</Txt>

      <Txt x={805} y={1494} size={28} anchor="start" style={{ fontStyle: 'italic' }}>D Inset</Txt>
      <Txt x={725} y={1637} size={25} rotate={-90}>TiO<Sub>2</Sub> (wt %)</Txt>
      <Txt x={993} y={1800} size={25}>FeO (wt %)</Txt>

      {/* key */}
      <div style={{ position: 'absolute', left: 717, top: 42, width: 496, height: 504, border: `2px solid ${INK}`, boxSizing: 'border-box' }} />
      <Txt x={769} y={67} size={25} anchor="start" style={{ fontWeight: 700 }}>KEY</Txt>
      <Txt x={757} y={293} size={24} anchor="start"><b>ODP-181, Site 1124</b> (Stevens, 2010)</Txt>
      {legendNew.map((e) => {
        const st = STY[e.k];
        return (
          <React.Fragment key={e.k}>
            <svg style={{ position: 'absolute', left: 777 - 16, top: e.sy - 16 }} width={32} height={32}>
              <Marker k={st.kind} cx={16} cy={16} s={e.sz} fill={st.fill} stroke={st.stroke} />
            </svg>
            <Txt x={e.tx} y={e.ty} size={25} anchor="start">{e.text}<i>n</i>{e.n}</Txt>
          </React.Fragment>
        );
      })}
      <div style={{ position: 'absolute', left: 1168, top: 368, width: 8, height: 47, borderTop: `2px solid ${INK}`, borderRight: `2px solid ${INK}`, borderBottom: `2px solid ${INK}` }} />
    </div>
  );
}
